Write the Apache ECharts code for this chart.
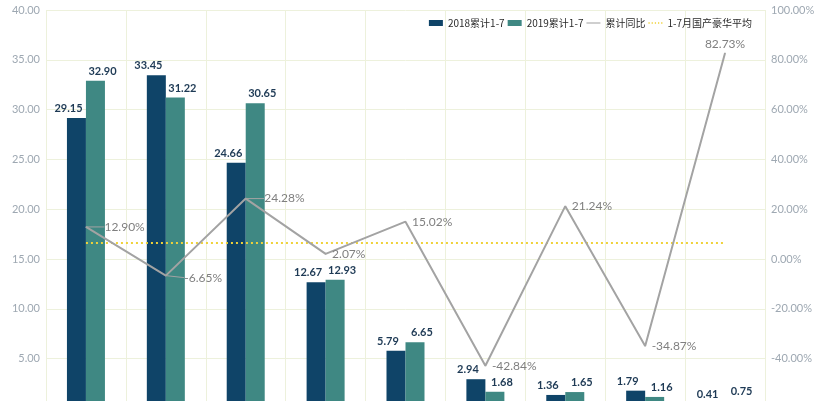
<!DOCTYPE html>
<html>
<head>
<meta charset="utf-8">
<script src="https://cdn.jsdelivr.net/npm/echarts@6/dist/echarts.min.js"></script>
<style>html,body{margin:0;padding:0;background:#fff;}#c{width:820px;height:401px;}</style>
</head>
<body>
<div id="c"></div>
<script>
const categories = ['品牌A','品牌B','品牌C','品牌D','品牌E','品牌F','品牌G','品牌H','品牌I'];
const sales2018 = [29.15, 33.45, 24.66, 12.67, 5.79, 2.94, 1.36, 1.79, 0.41];
const sales2019 = [32.90, 31.22, 30.65, 12.93, 6.65, 1.68, 1.65, 1.16, 0.75];
const yoy = [12.90, -6.65, 24.28, 2.07, 15.02, -42.84, 21.24, -34.87, 82.73];
const avgYoy = [6.4, 6.4, 6.4, 6.4, 6.4, 6.4, 6.4, 6.4, 6.4];
const seriesNames = ['2018累计1-7', '2019累计1-7', '累计同比', '1-7月国产豪华平均'];

const FONT = 'Lato, "Noto Sans CJK SC", sans-serif';
const chart = echarts.init(document.getElementById('c'));
const gridColor = '#edf1dc';
const barLabel = (dx) => ({
  show: true, position: 'top', distance: 4, offset: [dx, 0],
  color: '#1e3a55', fontWeight: 'bold', fontSize: 11, fontFamily: FONT,
  formatter: p => p.value.toFixed(2)
});
const yoyData = yoy.map((v, i) => {
  if (i === yoy.length - 1) return { value: v, label: { position: 'top', distance: 2, offset: [11, 2] } };
  if (i < 3) return { value: v, labelLine: { show: true } };
  return v;
});
chart.setOption({
  animation: false,
  textStyle: { fontFamily: FONT },
  grid: { left: 46, right: 55, top: 10, height: 398.5, containLabel: false, outerBoundsMode: 'none' },
  legend: {
    right: 63, top: 13, itemWidth: 14, itemHeight: 6, itemGap: 3,
    textStyle: { fontSize: 10, color: '#2a2a2a', fontFamily: '"Noto Sans CJK SC", Lato, sans-serif' },
    data: [
      { name: seriesNames[0], icon: 'rect' },
      { name: seriesNames[1], icon: 'rect' },
      { name: seriesNames[2], icon: 'path://M0,0 L20,0 L20,1.5 L0,1.5 Z', itemStyle: { color: '#a3a3a3' } },
      { name: seriesNames[3], icon: 'path://M0,0 L2,0 L2,2 L0,2 Z M5,0 L7,0 L7,2 L5,2 Z M10,0 L12,0 L12,2 L10,2 Z M15,0 L17,0 L17,2 L15,2 Z M20,0 L22,0 L22,2 L20,2 Z', itemStyle: { color: '#f0d23a' } }
    ]
  },
  xAxis: {
    type: 'category', data: categories, boundaryGap: true,
    axisLine: { show: false }, axisTick: { show: false },
    axisLabel: { show: true },
    splitLine: { show: true, lineStyle: { color: gridColor, width: 1 } }
  },
  yAxis: [
    {
      type: 'value', min: 0, max: 40, interval: 5,
      axisLine: { show: false }, axisTick: { show: false },
      axisLabel: { color: '#9ea8b2', fontSize: 11, margin: 6, formatter: v => v.toFixed(2) },
      splitLine: { show: true, lineStyle: { color: gridColor, width: 1 } }
    },
    {
      type: 'value', min: -60, max: 100, interval: 20,
      axisLine: { show: false }, axisTick: { show: false },
      axisLabel: { color: '#9ea8b2', fontSize: 11, margin: 6, formatter: v => v.toFixed(2) + '%' },
      splitLine: { show: false }
    }
  ],
  series: [
    {
      name: seriesNames[0], type: 'bar', data: sales2018, barWidth: 19, barGap: '0%',
      itemStyle: { color: '#0f4468' }, label: barLabel(-8)
    },
    {
      name: seriesNames[1], type: 'bar', data: sales2019, barWidth: 19, barGap: '0%',
      itemStyle: { color: '#3f8883' }, label: barLabel(7)
    },
    {
      name: seriesNames[2], type: 'line', yAxisIndex: 1, z: 5,
      data: yoyData,
      symbol: 'circle', symbolSize: 1, showSymbol: true,
      lineStyle: { color: '#a3a3a3', width: 2 }, itemStyle: { color: '#a3a3a3' },
      label: {
        show: true, position: 'right', distance: 6, color: '#7f7f7f', fontSize: 12,
        formatter: p => p.value.toFixed(2) + '%'
      },
      labelLayout: p => (p.dataIndex < 3 ? { dx: 12, dy: p.dataIndex === 1 ? 2 : 0 } : {}),
      labelLine: { show: false, lineStyle: { color: '#a3a3a3', width: 1 } }
    },
    {
      name: seriesNames[3], type: 'line', yAxisIndex: 1, data: avgYoy, z: 4,
      symbol: 'none', lineStyle: { color: '#f0d23a', width: 2, type: [2, 3] }, itemStyle: { color: '#f0d23a' }
    }
  ]
});
</script>
</body>
</html>
